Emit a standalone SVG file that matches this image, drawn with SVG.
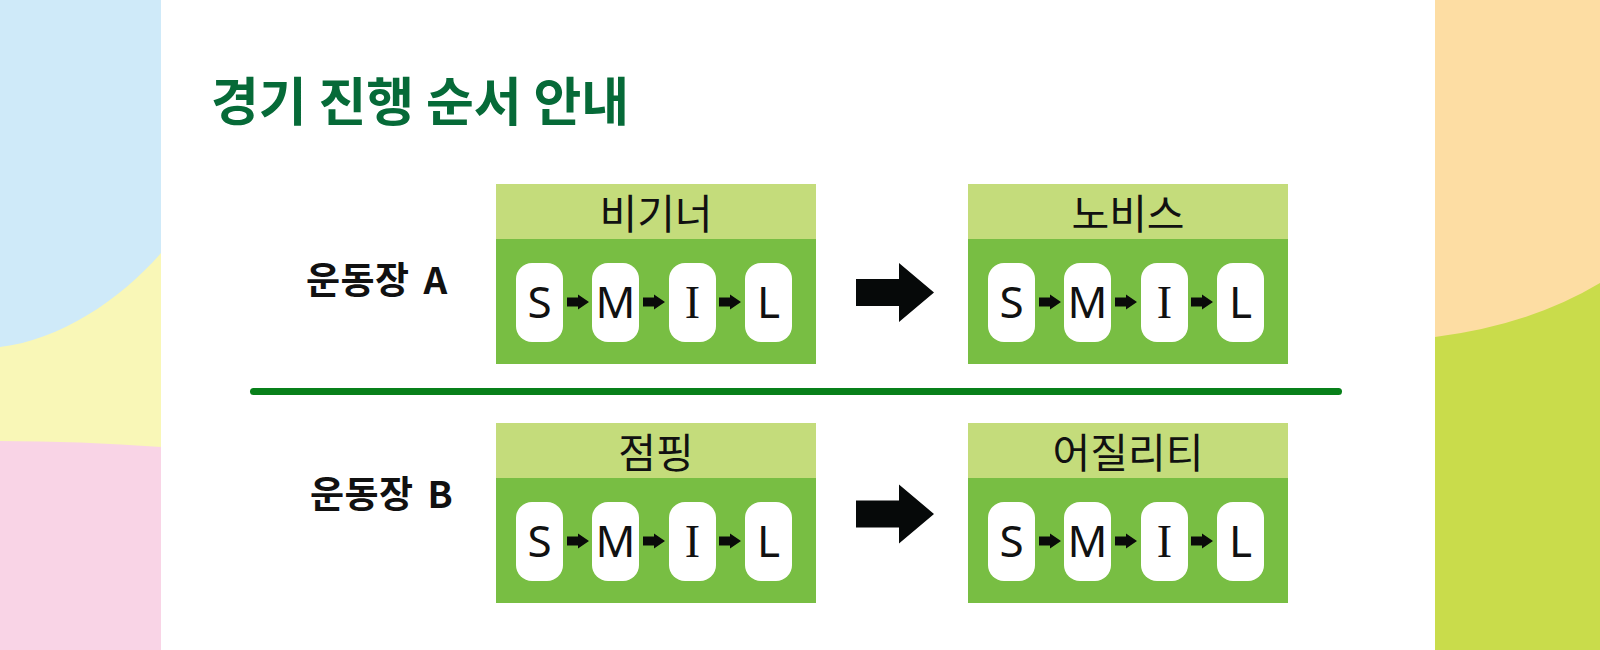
<svg xmlns="http://www.w3.org/2000/svg" xmlns:xlink="http://www.w3.org/1999/xlink" width="1600" height="650" viewBox="0 0 1600 650">
<style>
.hd{fill:#C4DC7B}
.bd{fill:#78BE43}
.pill{fill:#FFFFFF}
.ht{font-family:"Noto Sans CJK KR","Noto Sans",sans-serif;font-size:41px;fill:#111;text-anchor:middle}
.lt{font-family:"Noto Sans","Open Sans",sans-serif;font-size:44px;fill:#111;text-anchor:middle}
.li{font-family:"Liberation Serif",serif;font-size:46px;fill:#111;text-anchor:middle}
.lab{font-family:"Noto Sans CJK KR","Noto Sans",sans-serif;font-size:37px;font-weight:bold;fill:#111;word-spacing:5px;letter-spacing:0.5px}
.title{font-family:"Noto Sans CJK KR","Noto Sans",sans-serif;font-size:52px;font-weight:bold;fill:#066A38}
.ba{fill:#060909}
</style>
<defs>
<polygon id="sa" points="0,-4.5 11,-4.5 11,-7.5 22,0 11,7.5 11,4.5 0,4.5" fill="#0A0A0A"/>
<g id="body">
<rect class="bd" x="0" y="55" width="320" height="125"/>
<rect class="pill" x="20" y="79" width="47" height="79" rx="16"/>
<rect class="pill" x="96" y="79" width="47" height="79" rx="16"/>
<rect class="pill" x="173" y="79" width="47" height="79" rx="16"/>
<rect class="pill" x="249" y="79" width="47" height="79" rx="16"/>
<text class="lt" x="43.5" y="134">S</text>
<text class="lt" x="119.5" y="134">M</text>
<text class="li" x="196.5" y="134">I</text>
<text class="lt" x="272.5" y="134">L</text>
<use xlink:href="#sa" x="71" y="118"/>
<use xlink:href="#sa" x="147" y="118"/>
<use xlink:href="#sa" x="223" y="118"/>
</g>
</defs>
<rect x="0" y="0" width="1600" height="650" fill="#FFFFFF"/>
<g id="decor-left">
<rect x="0" y="0" width="161" height="650" fill="#F9D4E6"/>
<path d="M0,0 H161 V447 Q80,441 0,441 Z" fill="#F9F7B7"/>
<path d="M0,0 H161 V253 C120,300 60,340 0,347 Z" fill="#CFEAF9"/>
</g>
<g id="decor-right">
<rect x="1435" y="0" width="165" height="650" fill="#C9DC4B"/>
<path d="M1435,0 H1600 V283 Q1530,325 1435,337 Z" fill="#FDDDA3"/>
</g>
<g id="title"><text class="title" x="211" y="121">경기 진행 순서 안내</text></g>
<g id="label-a"><text class="lab" x="306" y="294">운동장 A</text></g>
<g id="label-b"><text class="lab" x="310" y="508">운동장 B</text></g>
<g id="divider"><line x1="253.5" y1="391.5" x2="1338.5" y2="391.5" stroke="#08801A" stroke-width="7" stroke-linecap="round"/></g>
<g id="node-beginner" transform="translate(496,184)">
<rect class="hd" x="0" y="0" width="320" height="55"/>
<text class="ht" x="160" y="45">비기너</text>
<use xlink:href="#body"/>
</g>
<g id="node-novice" transform="translate(968,184)">
<rect class="hd" x="0" y="0" width="320" height="55"/>
<text class="ht" x="160" y="45">노비스</text>
<use xlink:href="#body"/>
</g>
<g id="node-jumping" transform="translate(496,423)">
<rect class="hd" x="0" y="0" width="320" height="55"/>
<text class="ht" x="160" y="45">점핑</text>
<use xlink:href="#body"/>
</g>
<g id="node-agility" transform="translate(968,423)">
<rect class="hd" x="0" y="0" width="320" height="55"/>
<text class="ht" x="160" y="45">어질리티</text>
<use xlink:href="#body"/>
</g>
<g id="connectors">
<polygon class="ba" points="856,279 899,279 899,263 934,292.5 899,322 899,306 856,306"/>
<polygon class="ba" points="856,500.5 899,500.5 899,484.5 934,514 899,543.5 899,527.5 856,527.5"/>
</g>
</svg>
